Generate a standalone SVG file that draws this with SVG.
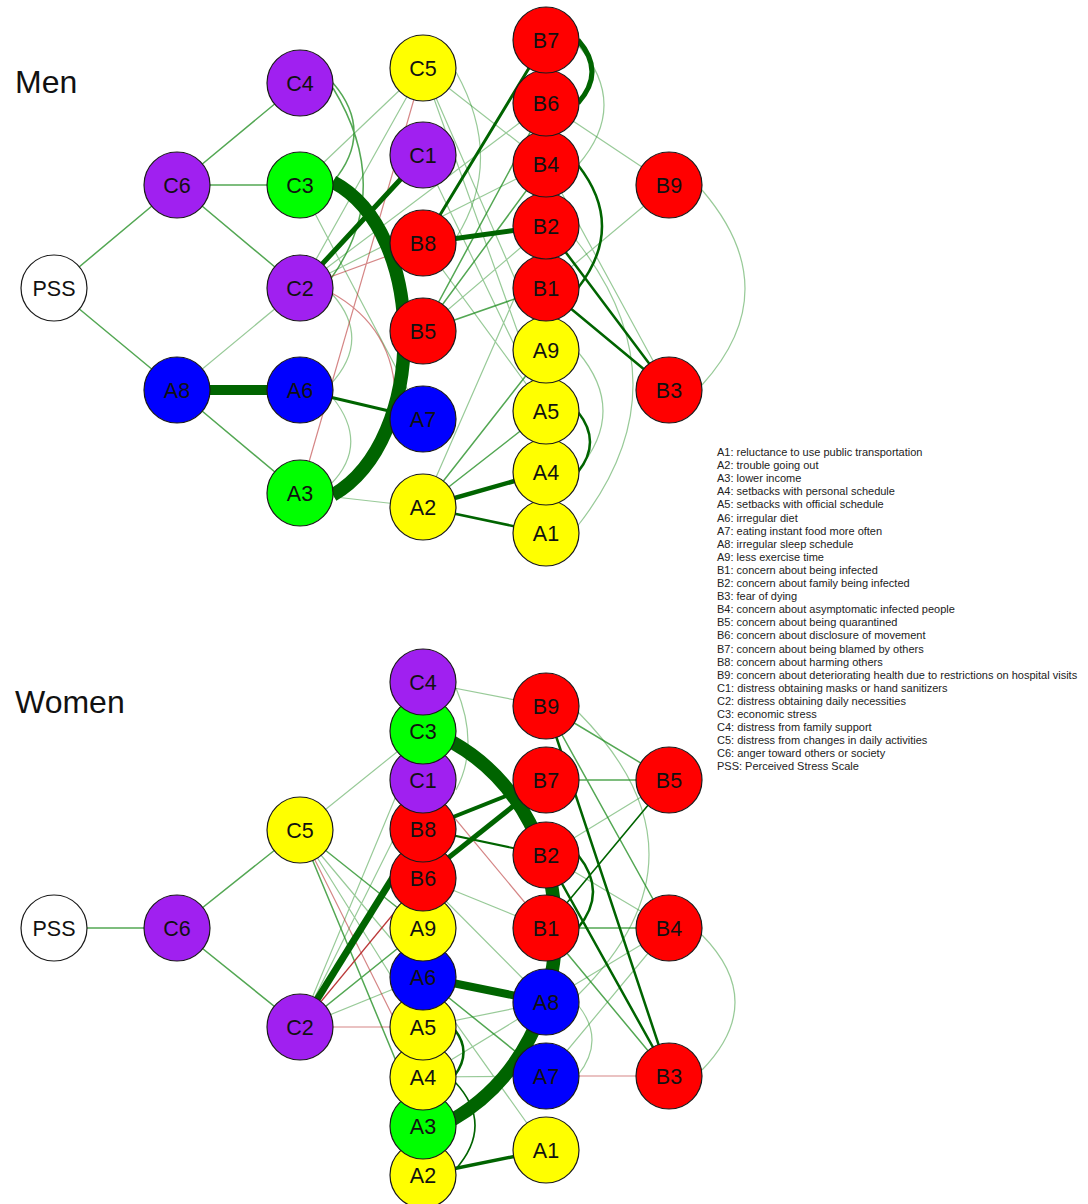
<svg xmlns="http://www.w3.org/2000/svg" width="1088" height="1204" viewBox="0 0 1088 1204">
<style>
.l{stroke:#1a8a1a;stroke-opacity:.45;stroke-width:1.2;fill:none}
.m{stroke:#1a8a1a;stroke-opacity:.75;stroke-width:1.5;fill:none}
.d{stroke:#006400;stroke-width:2.5;fill:none}
.k{stroke:#006400;fill:none}
.r{stroke:#b22222;stroke-opacity:.55;stroke-width:1.2;fill:none}
.rd{stroke:#b22222;stroke-opacity:.9;stroke-width:1.3;fill:none}
circle{stroke:#1a1a1a;stroke-width:1.2}
.y{fill:#ffff00}.g{fill:#00ff00}.b{fill:#0000ff}.rr{fill:#ff0000}.p{fill:#a020f0}.w{fill:#ffffff}
.nl{font-family:"Liberation Sans",Arial,sans-serif;font-size:21.5px;fill:#111;text-anchor:middle}
.ttl{font-family:"Liberation Sans",Arial,sans-serif;font-size:32px;fill:#111}
.lg{font-family:"Liberation Sans",Arial,sans-serif;font-size:11px;fill:#222}
</style>
<rect width="1088" height="1204" fill="#ffffff"/>
<text class="ttl" x="15" y="93">Men</text>
<text class="ttl" x="15" y="713">Women</text>

<g id="edges-men">
<path class="m" d="M54 288L177 185M54 288L177 390M177 185L300 83M177 185L300 185M177 185L300 288M177 390L300 493"/>
<path class="l" d="M177 390L300 288M423 68L300 185M423 68L300 288M423 68L546 350M423 68L546 411M423 68L546 164M300 185L423 419M300 288L546 164M300 288L546 103M300 493L423 507M423 507L546 226M423 331L546 226M423 155L546 411M423 243L546 411M546 103L669 185M546 288L669 185M546 164L669 390"/>
<path class="l" d="M456 72Q505 160 456 238M333 295Q372 340 330 385M333 398Q370 445 330 485M702 190Q788 290 702 385M576 240Q690 385 576 528M578 352Q628 411 578 470M578 45Q630 105 578 165"/>
<path class="m" d="M333 83Q375 132 333 182M333 88Q395 190 330 280M423 507L546 350M423 507L546 411M423 331L546 103M423 331L546 164M423 331L546 288"/>
<path class="r" d="M423 68L300 493M300 288L423 243M330 292Q400 330 395 412"/>
<path class="d" d="M546 226L669 390M546 288L669 390M578 165Q626 226 578 288M578 412Q602 442 578 472"/>
<path class="k" stroke-width="2.5" d="M423 507L546 533"/>
<path class="k" stroke-width="3" d="M300 390L423 419M423 243L546 40"/>
<path class="k" stroke-width="4.5" d="M423 507L546 472"/>
<path class="k" stroke-width="5" d="M300 288L423 155M423 243L546 226M578 40Q606 72 578 103"/>
<path class="k" stroke-width="10" d="M177 390L300 390"/>
<path class="k" stroke-width="13.5" d="M333 182C428 232 428 440 333 495"/>
</g>

<g id="edges-women">
<path class="m" d="M54 928L177 928M177 928L300 830M177 928L300 1027"/>
<path class="l" d="M300 830L423 731M300 830L423 977M300 830L423 1027M300 1027L423 731M300 1027L423 780M300 1027L423 977M423 682L546 706M423 878L546 928M423 878L546 1002M423 977L546 1150M423 1027L546 1002M423 1077L546 1002M423 1077L546 1076M669 780L546 855M546 855L669 928M546 1076L669 928M546 1002L669 928"/>
<path class="l" d="M456 688Q480 745 456 790M578 712Q720 855 578 995M702 935Q768 1002 702 1070M578 1005Q606 1040 578 1075"/>
<path class="m" d="M300 830L423 928M300 830L423 1126M300 1027L423 928M423 977L546 1076M546 706L669 780M546 706L669 928M546 780L669 780M546 928L669 928M546 928L669 1076"/>
<path class="r" d="M300 830L423 1077M300 1027L423 1027M423 780L546 928M546 1076L669 1076"/>
<path class="rd" d="M300 1027L423 878"/>
<path class="k" stroke-width="1.6" d="M669 780L546 928M455 1082Q495 1125 455 1170"/>
<path class="k" stroke-width="2" d="M423 829L546 855"/>
<path class="d" d="M546 706L669 1076M546 855L669 1076M578 855Q608 892 578 928M455 1030Q472 1052 455 1075"/>
<path class="k" stroke-width="3.5" d="M423 1175L546 1150"/>
<path class="k" stroke-width="4" d="M423 829L546 780"/>
<path class="k" stroke-width="5" d="M423 878L546 780"/>
<path class="k" stroke-width="7" d="M300 1027L423 829"/>
<path class="k" stroke-width="8" d="M423 977L546 1002"/>
<path class="k" stroke-width="13.5" d="M452 742C590 820 590 1040 452 1120"/>
</g>

<g id="nodes-men">
<g id="m-A1"><circle class="y" cx="546" cy="533" r="33"/><text class="nl" x="546" y="540.5">A1</text></g>
<g id="m-A2"><circle class="y" cx="423" cy="507" r="33"/><text class="nl" x="423" y="514.5">A2</text></g>
<g id="m-A3"><circle class="g" cx="300" cy="493" r="33"/><text class="nl" x="300" y="500.5">A3</text></g>
<g id="m-A4"><circle class="y" cx="546" cy="472" r="33"/><text class="nl" x="546" y="479.5">A4</text></g>
<g id="m-A5"><circle class="y" cx="546" cy="411" r="33"/><text class="nl" x="546" y="418.5">A5</text></g>
<g id="m-A6"><circle class="b" cx="300" cy="390" r="33"/><text class="nl" x="300" y="397.5">A6</text></g>
<g id="m-A7"><circle class="b" cx="423" cy="419" r="33"/><text class="nl" x="423" y="426.5">A7</text></g>
<g id="m-A8"><circle class="b" cx="177" cy="390" r="33"/><text class="nl" x="177" y="397.5">A8</text></g>
<g id="m-A9"><circle class="y" cx="546" cy="350" r="33"/><text class="nl" x="546" y="357.5">A9</text></g>
<g id="m-B1"><circle class="rr" cx="546" cy="288" r="33"/><text class="nl" x="546" y="295.5">B1</text></g>
<g id="m-B2"><circle class="rr" cx="546" cy="226" r="33"/><text class="nl" x="546" y="233.5">B2</text></g>
<g id="m-B3"><circle class="rr" cx="669" cy="390" r="33"/><text class="nl" x="669" y="397.5">B3</text></g>
<g id="m-B4"><circle class="rr" cx="546" cy="164" r="33"/><text class="nl" x="546" y="171.5">B4</text></g>
<g id="m-B5"><circle class="rr" cx="423" cy="331" r="33"/><text class="nl" x="423" y="338.5">B5</text></g>
<g id="m-B6"><circle class="rr" cx="546" cy="103" r="33"/><text class="nl" x="546" y="110.5">B6</text></g>
<g id="m-B7"><circle class="rr" cx="546" cy="40" r="33"/><text class="nl" x="546" y="47.5">B7</text></g>
<g id="m-B8"><circle class="rr" cx="423" cy="243" r="33"/><text class="nl" x="423" y="250.5">B8</text></g>
<g id="m-B9"><circle class="rr" cx="669" cy="185" r="33"/><text class="nl" x="669" y="192.5">B9</text></g>
<g id="m-C1"><circle class="p" cx="423" cy="155" r="33"/><text class="nl" x="423" y="162.5">C1</text></g>
<g id="m-C2"><circle class="p" cx="300" cy="288" r="33"/><text class="nl" x="300" y="295.5">C2</text></g>
<g id="m-C3"><circle class="g" cx="300" cy="185" r="33"/><text class="nl" x="300" y="192.5">C3</text></g>
<g id="m-C4"><circle class="p" cx="300" cy="83" r="33"/><text class="nl" x="300" y="90.5">C4</text></g>
<g id="m-C5"><circle class="y" cx="423" cy="68" r="33"/><text class="nl" x="423" y="75.5">C5</text></g>
<g id="m-C6"><circle class="p" cx="177" cy="185" r="33"/><text class="nl" x="177" y="192.5">C6</text></g>
<g id="m-PSS"><circle class="w" cx="54" cy="288" r="33"/><text class="nl" x="54" y="295.5">PSS</text></g>
</g>

<g id="nodes-women">
<g id="w-A1"><circle class="y" cx="546" cy="1150" r="33"/><text class="nl" x="546" y="1157.5">A1</text></g>
<g id="w-A2"><circle class="y" cx="423" cy="1175" r="33"/><text class="nl" x="423" y="1182.5">A2</text></g>
<g id="w-A3"><circle class="g" cx="423" cy="1126" r="33"/><text class="nl" x="423" y="1133.5">A3</text></g>
<g id="w-A4"><circle class="y" cx="423" cy="1077" r="33"/><text class="nl" x="423" y="1084.5">A4</text></g>
<g id="w-A5"><circle class="y" cx="423" cy="1027" r="33"/><text class="nl" x="423" y="1034.5">A5</text></g>
<g id="w-A6"><circle class="b" cx="423" cy="977" r="33"/><text class="nl" x="423" y="984.5">A6</text></g>
<g id="w-A7"><circle class="b" cx="546" cy="1076" r="33"/><text class="nl" x="546" y="1083.5">A7</text></g>
<g id="w-A8"><circle class="b" cx="546" cy="1002" r="33"/><text class="nl" x="546" y="1009.5">A8</text></g>
<g id="w-A9"><circle class="y" cx="423" cy="928" r="33"/><text class="nl" x="423" y="935.5">A9</text></g>
<g id="w-B1"><circle class="rr" cx="546" cy="928" r="33"/><text class="nl" x="546" y="935.5">B1</text></g>
<g id="w-B2"><circle class="rr" cx="546" cy="855" r="33"/><text class="nl" x="546" y="862.5">B2</text></g>
<g id="w-B3"><circle class="rr" cx="669" cy="1076" r="33"/><text class="nl" x="669" y="1083.5">B3</text></g>
<g id="w-B4"><circle class="rr" cx="669" cy="928" r="33"/><text class="nl" x="669" y="935.5">B4</text></g>
<g id="w-B5"><circle class="rr" cx="669" cy="780" r="33"/><text class="nl" x="669" y="787.5">B5</text></g>
<g id="w-B6"><circle class="rr" cx="423" cy="878" r="33"/><text class="nl" x="423" y="885.5">B6</text></g>
<g id="w-B7"><circle class="rr" cx="546" cy="780" r="33"/><text class="nl" x="546" y="787.5">B7</text></g>
<g id="w-B8"><circle class="rr" cx="423" cy="829" r="33"/><text class="nl" x="423" y="836.5">B8</text></g>
<g id="w-B9"><circle class="rr" cx="546" cy="706" r="33"/><text class="nl" x="546" y="713.5">B9</text></g>
<g id="w-C1"><circle class="p" cx="423" cy="780" r="33"/><text class="nl" x="423" y="787.5">C1</text></g>
<g id="w-C2"><circle class="p" cx="300" cy="1027" r="33"/><text class="nl" x="300" y="1034.5">C2</text></g>
<g id="w-C3"><circle class="g" cx="423" cy="731" r="33"/><text class="nl" x="423" y="738.5">C3</text></g>
<g id="w-C4"><circle class="p" cx="423" cy="682" r="33"/><text class="nl" x="423" y="689.5">C4</text></g>
<g id="w-C5"><circle class="y" cx="300" cy="830" r="33"/><text class="nl" x="300" y="837.5">C5</text></g>
<g id="w-C6"><circle class="p" cx="177" cy="928" r="33"/><text class="nl" x="177" y="935.5">C6</text></g>
<g id="w-PSS"><circle class="w" cx="54" cy="928" r="33"/><text class="nl" x="54" y="935.5">PSS</text></g>
</g>

<g id="legend">
<text class="lg" x="717" y="456">A1: reluctance to use public transportation<tspan x="717" dy="13.1">A2: trouble going out</tspan><tspan x="717" dy="13.1">A3: lower income</tspan><tspan x="717" dy="13.1">A4: setbacks with personal schedule</tspan><tspan x="717" dy="13.1">A5: setbacks with official schedule</tspan><tspan x="717" dy="13.1">A6: irregular diet</tspan><tspan x="717" dy="13.1">A7: eating instant food more often</tspan><tspan x="717" dy="13.1">A8: irregular sleep schedule</tspan><tspan x="717" dy="13.1">A9: less exercise time</tspan><tspan x="717" dy="13.1">B1: concern about being infected</tspan><tspan x="717" dy="13.1">B2: concern about family being infected</tspan><tspan x="717" dy="13.1">B3: fear of dying</tspan><tspan x="717" dy="13.1">B4: concern about asymptomatic infected people</tspan><tspan x="717" dy="13.1">B5: concern about being quarantined</tspan><tspan x="717" dy="13.1">B6: concern about disclosure of movement</tspan><tspan x="717" dy="13.1">B7: concern about being blamed by others</tspan><tspan x="717" dy="13.1">B8: concern about harming others</tspan><tspan x="717" dy="13.1">B9: concern about deteriorating health due to restrictions on hospital visits</tspan><tspan x="717" dy="13.1">C1: distress obtaining masks or hand sanitizers</tspan><tspan x="717" dy="13.1">C2: distress obtaining daily necessities</tspan><tspan x="717" dy="13.1">C3: economic stress</tspan><tspan x="717" dy="13.1">C4: distress from family support</tspan><tspan x="717" dy="13.1">C5: distress from changes in daily activities</tspan><tspan x="717" dy="13.1">C6: anger toward others or society</tspan><tspan x="717" dy="13.1">PSS: Perceived Stress Scale</tspan></text>
</g>
</svg>
